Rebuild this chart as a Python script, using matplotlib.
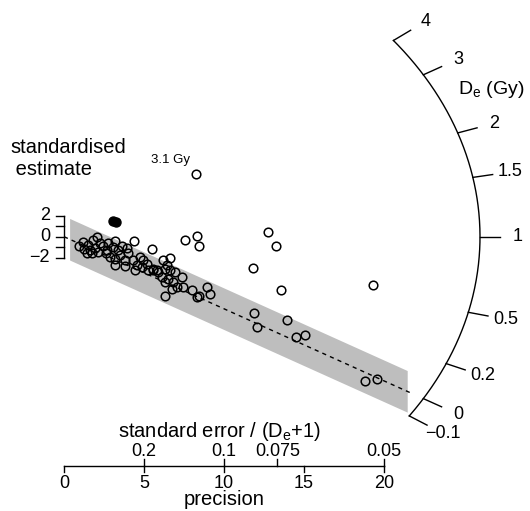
import numpy as np
import matplotlib
matplotlib.use('Agg')
import matplotlib.pyplot as plt

plt.rcParams['font.family'] = ['Liberation Sans', 'DejaVu Sans']
plt.rcParams['mathtext.fontset'] = 'custom'
plt.rcParams['mathtext.rm'] = 'Liberation Sans'
plt.rcParams['mathtext.it'] = 'Liberation Sans:italic'

# ---------------- data (precision = 1/se, standardised estimate) ----------------
precision = [4.38, 3.19, 5.48, 7.56, 8.29, 8.46, 8.25, 0.92, 1.21, 1.52, 1.83, 2.04, 2.25,
             1.63, 1.94, 1.46, 1.73, 2.46, 2.71, 2.63, 2.77, 3.08, 3.39, 3.61, 3.92, 4.02,
             2.88, 3.19, 3.19, 3.50, 3.81, 3.81, 4.33, 4.54, 4.44, 4.75, 4.96, 4.86, 5.17,
             5.27, 5.58, 5.89, 6.21, 6.42, 6.63, 6.31, 6.63, 6.11, 6.31, 6.52, 6.94, 7.36,
             6.83, 6.73, 6.31, 7.04, 7.46, 7.98, 8.29, 8.46, 8.96, 9.13, 12.75, 13.23, 11.83,
             13.56, 19.33, 11.89, 12.04, 13.96, 14.52, 15.08, 18.81, 19.56, 5.54, 5.79, 1.25, 2.13]
std_est = [-0.42, -0.39, -1.22, -0.32, 0.07, -0.93, 6.03, -0.90, -0.49, -0.81, -0.32, -0.06, -0.64,
           -1.29, -1.13, -1.61, -1.61, -0.90, -1.29, -1.61, -0.64, -0.97, -1.29, -0.90, -1.13, -1.61,
           -1.94, -2.10, -2.75, -1.78, -2.26, -2.84, -2.26, -2.75, -3.23, -1.94, -2.26, -2.91, -2.58,
           -3.23, -3.07, -3.40, -2.26, -2.75, -2.00, -3.07, -3.23, -3.88, -4.37, -4.04, -3.40, -3.88,
           -4.37, -5.01, -5.66, -4.85, -4.85, -5.17, -5.83, -5.66, -4.85, -5.50, 0.43, -0.90, -3.04,
           -5.17, -4.62, -7.37, -8.71, -8.01, -9.67, -9.47, -13.84, -13.65, -3.23, -3.23, -1.19, -1.48]
filled_precision = [3.05, 3.22]
filled_std_est = [1.50, 1.40]
max_label = '3.1 Gy'
max_index = 6

ref_de = 1.0          # De at horizontal (z0)
central_de = 0.0      # central value (dashed line)
arc_ticks = [-0.1, 0, 0.2, 0.5, 1, 1.5, 2, 3, 4]
arc_tick_labels = ['\u22120.1', '0', '0.2', '0.5', '1', '1.5', '2', '3', '4']
prec_ticks = [0, 5, 10, 15, 20]
se_ticks = [0.2, 0.1, 0.075, 0.05]
se_tick_labels = ['0.2', '0.1', '0.075', '0.05']
y_ticks = [-2, -1, 0, 1, 2]
y_tick_labels = {2: '2', 0: '0', -2: '\u22122'}

# ---------------- layout ----------------
W, H = 530, 511
fig = plt.figure(figsize=(W / 100, H / 100), dpi=100)
ax = fig.add_axes([0, 0, 1, 1])
ax.axis('off')
x_px0, sx = 64.0, 16.0      # px of precision 0, px per precision unit
y_px0, sy = 236.7, 10.4     # px (from top) of estimate 0, px per unit
ax.set_xlim(-x_px0 / sx, (W - x_px0) / sx)
ax.set_ylim(-(H - y_px0) / sy, y_px0 / sy)

z0 = np.log(ref_de + 1)
a_ell, b_ell = 26.0, 30.9   # arc semi-axes in data units
tick_fs = 13
title_fs = 14.5


def slope(de):
    return np.log(de + 1) - z0


def arc_pt(de):
    s = slope(de)
    t = 1.0 / np.sqrt(1 / a_ell ** 2 + s ** 2 / b_ell ** 2)
    return t, t * s


def radial_offset(x, y, d):
    vx, vy = x * sx, y * sy
    n = np.hypot(vx, vy)
    return x + d * vx / n / sx, y + d * vy / n / sy


black = 'black'
lw = 1.0

# grey band
s_c = slope(central_de)
band_x = np.array([0.35, 21.45])
ax.fill_between(band_x, s_c * band_x - 2, s_c * band_x + 2, color='#bebebe', lw=0, zorder=1)

# dashed central line
tc, yc = arc_pt(central_de)
ax.plot([0, tc * 0.97], [0, yc * 0.97], color=black, lw=1.0, ls=(0, (3, 3)), zorder=2)

# arc
des = np.linspace(arc_ticks[0], arc_ticks[-1], 400)
pts = np.array([arc_pt(d) for d in des])
ax.plot(pts[:, 0], pts[:, 1], color=black, lw=lw, zorder=3)
for d, lab in zip(arc_ticks, arc_tick_labels):
    x, y = arc_pt(d)
    x2, y2 = radial_offset(x, y, 20)
    ax.plot([x, x2], [y, y2], color=black, lw=lw)
    x3, y3 = radial_offset(x, y, 38)
    ax.text(x3, y3, lab, ha='center', va='center', fontsize=tick_fs)
xl, yl = arc_pt(2.4)
xl, yl = radial_offset(xl, yl, 50)
ax.text(xl, yl, r'D$_{\rm e}$ (Gy)', ha='center', va='center', fontsize=14)

# y axis (standardised estimate)
ax.plot([0, 0], [y_ticks[0], y_ticks[-1]], color=black, lw=lw)
for yt in y_ticks:
    ax.plot([-8 / sx, 0], [yt, yt], color=black, lw=lw)
    if yt in y_tick_labels:
        ax.text(-14 / sx, yt, y_tick_labels[yt], ha='right', va='center', fontsize=tick_fs)
ax.text(-54 / sx, (y_px0 - 138) / sy, 'standardised\n estimate', ha='left', va='top',
        fontsize=title_fs, linespacing=1.2)

# bottom axis
y_ax = -(465.7 - y_px0) / sy
ax.plot([prec_ticks[0], prec_ticks[-1]], [y_ax, y_ax], color=black, lw=lw)
for p in prec_ticks:
    ax.plot([p, p], [y_ax, y_ax - 6 / sy], color=black, lw=lw)
    ax.text(p, y_ax - 17.5 / sy, str(p), ha='center', va='center', fontsize=tick_fs)
for se, lab in zip(se_ticks, se_tick_labels):
    ax.plot([1 / se, 1 / se], [y_ax, y_ax + 7 / sy], color=black, lw=lw)
    ax.text(1 / se, y_ax + 14 / sy, lab, ha='center', va='center', fontsize=tick_fs)
xmid = (prec_ticks[0] + prec_ticks[-1]) / 2
ax.text(xmid - 0.3, y_ax + 34 / sy, r'standard error / (D$_{\rm e}$+1)', ha='center', va='center',
        fontsize=title_fs)
ax.text(xmid, y_ax - 34 / sy, 'precision', ha='center', va='center', fontsize=title_fs)

# points
ax.plot(precision, std_est, 'o', ms=6.2, mfc='none', mec=black, mew=1.1, zorder=4)
ax.plot(filled_precision, filled_std_est, 'o', ms=6.5, mfc=black, mec=black, mew=1.0, zorder=4)
ax.annotate(max_label, (precision[max_index], std_est[max_index]), xytext=(-6, 11),
            textcoords='offset pixels', ha='right', va='baseline', fontsize=9.5)

fig.savefig('out.png', dpi=100)
